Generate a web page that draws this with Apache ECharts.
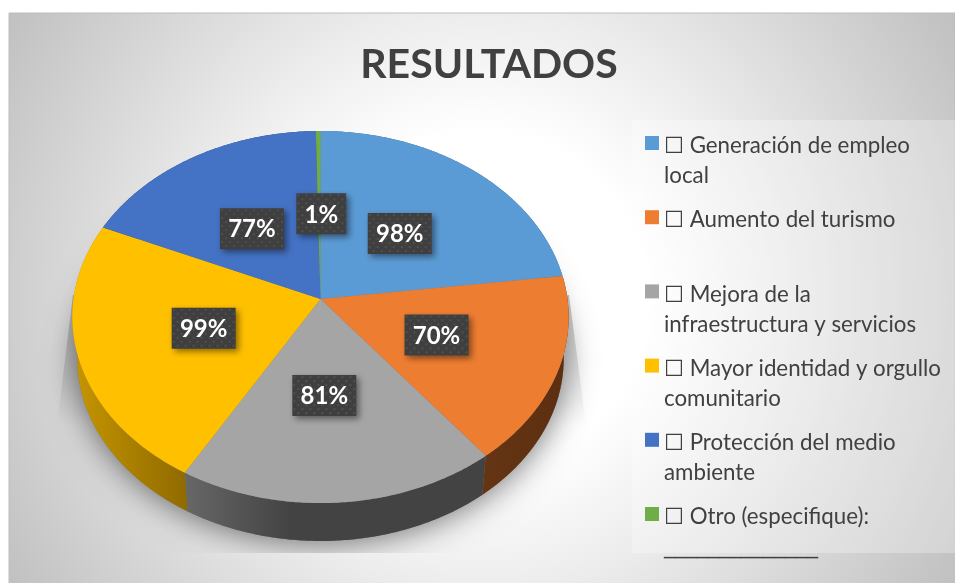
<!DOCTYPE html>
<html>
<head>
<meta charset="utf-8">
<style>
  html, body { margin: 0; padding: 0; background: #fff; }
  #chart { width: 955px; height: 583px; }
</style>
</head>
<body>
<div id="chart"></div>
<script src="https://cdn.jsdelivr.net/npm/echarts@6/dist/echarts.min.js"></script>
<script>
const categories = [
  '☐ Generación de empleo\nlocal',
  '☐ Aumento del turismo\n ',
  '☐ Mejora de la\ninfraestructura y servicios',
  '☐ Mayor identidad y orgullo\ncomunitario',
  '☐ Protección del medio\nambiente',
  '☐ Otro (especifique):\n______________'
]
// the green slice is drawn a bit wider than its 1% label
const values = [98, 70, 81, 99, 77, 1.4]
const colors = ['#5b9bd5', '#ed7d31', '#a5a5a5', '#ffc000', '#4472c4', '#70ad47']
const wallColors = [
  ['#3a6a96', '#3a6a96'],
  ['#653514', '#5c2f10'],
  ['#666666', '#434343'],
  ['#c49400', '#8f6a00'],
  ['#2c4a80', '#2c4a80'],
  ['#4a7330', '#4a7330']
]
const labelNudge = [[2, 0], [2, 1], [-5, 2], [0, 1], [-4, 2], [2, 1]]

// pie geometry, the disc is tilted with some perspective
const CX = 320.5
const TOP_Y = 299
const BOTTOM_Y = 341
const RX = 247
const RY = 184.3
const PERSP = 0.0968
const BOTTOM_SCALE = 0.98
const LABEL_RADIUS = 0.49
const FONT = 'Lato, "DejaVu Sans", sans-serif'

const total = values.reduce((sum, v) => sum + v, 0)
const slices = []
values.reduce((acc, v, i) => {
  slices[i] = { start: acc / total * Math.PI * 2, end: (acc + v) / total * Math.PI * 2 }
  return acc + v
}, 0)

function project(angle, r, baseY, scale) {
  const u = r * Math.sin(angle)
  const v = -r * Math.cos(angle)
  const den = 1 - PERSP * v
  return [CX + RX * scale * u / den, baseY + RY * scale * v / den]
}

function arcPoints(start, end, baseY, scale) {
  const steps = Math.max(2, Math.ceil((end - start) / 0.01))
  const pts = []
  for (let i = 0; i <= steps; i++) {
    pts.push(project(start + (end - start) * i / steps, 1, baseY, scale))
  }
  return pts
}

function makeDots() {
  const canvas = document.createElement('canvas')
  canvas.width = 8
  canvas.height = 8
  const ctx = canvas.getContext('2d')
  ctx.fillStyle = '#3f3f3f'
  ctx.fillRect(0, 0, 8, 8)
  ctx.fillStyle = '#4f4f4f'
  ctx.fillRect(1, 1, 2, 2)
  ctx.fillRect(5, 5, 2, 2)
  return canvas
}
const dots = makeDots()

const bgGradient = () => new echarts.graphic.RadialGradient(480, 300, 560, [
  { offset: 0, color: '#ffffff' },
  { offset: 0.3, color: '#ffffff' },
  { offset: 0.5, color: '#eeeeee' },
  { offset: 1, color: '#bfbfbf' }
], true)

function wedge(points) {
  return {
    type: 'polygon',
    z2: 0,
    shape: { points },
    style: {
      fill: new echarts.graphic.LinearGradient(0, 295, 0, 425, [
        { offset: 0, color: 'rgba(0,0,0,0.24)' },
        { offset: 1, color: 'rgba(0,0,0,0)' }
      ], true)
    }
  }
}

function renderShadow() {
  return {
    type: 'group',
    children: [
      wedge([[73, 295], [57, 425], [110, 425], [110, 295]]),
      wedge([[569, 295], [586, 425], [530, 425], [530, 295]]),
      {
        type: 'polygon',
        z2: 0,
        shape: { points: arcPoints(0, Math.PI * 2, BOTTOM_Y, BOTTOM_SCALE) },
        style: {
          fill: '#777',
          shadowColor: 'rgba(0,0,0,0.55)',
          shadowBlur: 32,
          shadowOffsetY: 2
        }
      },
      {
        type: 'rect',
        z2: 1,
        shape: { x: 9, y: 553, width: 946, height: 30 },
        style: { fill: bgGradient() }
      }
    ]
  }
}

function renderSlice(i) {
  const { start, end } = slices[i]
  const top = arcPoints(start, end, TOP_Y, 1)
  const bottom = arcPoints(start, end, BOTTOM_Y, BOTTOM_SCALE)
  const mid = (start + end) / 2
  const [px, py] = project(mid, LABEL_RADIUS, TOP_Y, 1)
  const lx = px + labelNudge[i][0]
  const ly = py + labelNudge[i][1]
  const label = Math.round(values[i]) + '%'
  const boxW = label.length === 3 ? 64 : 50
  const boxH = 41
  return {
    type: 'group',
    children: [
      {
        type: 'polygon',
        z2: 2,
        shape: { points: top.concat(bottom.slice().reverse()) },
        style: {
          fill: new echarts.graphic.LinearGradient(
            Math.min(...bottom.map(p => p[0])), 0,
            i === 2 ? 290 : Math.max(...bottom.map(p => p[0])), 0,
            [{ offset: 0, color: wallColors[i][0] }, { offset: 1, color: wallColors[i][1] }],
            true
          )
        }
      },
      {
        type: 'polygon',
        z2: 3,
        shape: { points: [[CX, TOP_Y]].concat(top) },
        style: { fill: colors[i] }
      },
      {
        type: 'rect',
        z2: 4,
        x: lx - boxW / 2,
        y: ly - boxH / 2,
        shape: { x: 0, y: 0, width: boxW, height: boxH },
        style: {
          fill: { image: dots, repeat: 'repeat' },
          shadowColor: 'rgba(0,0,0,0.45)',
          shadowBlur: 6,
          shadowOffsetX: 3,
          shadowOffsetY: 3
        }
      },
      {
        type: 'text',
        z2: 5,
        x: lx,
        y: ly + 1,
        style: {
          text: label,
          fontFamily: FONT,
          fontSize: 24,
          fontWeight: 'bold',
          fill: '#fff',
          align: 'center',
          verticalAlign: 'middle'
        }
      }
    ]
  }
}

const chart = echarts.init(document.getElementById('chart'))

chart.setOption({
  animation: false,
  title: {
    text: 'RESULTADOS',
    left: 489,
    top: 44,
    textAlign: 'center',
    padding: 0,
    textStyle: { fontFamily: FONT, fontSize: 41, fontWeight: 'bold', color: '#404040' }
  },
  legend: {
    orient: 'vertical',
    left: 645,
    top: 95,
    padding: 0,
    itemWidth: 14,
    itemHeight: 14,
    itemGap: -21.8,
    selectedMode: false,
    icon: 'rect',
    data: categories,
    // tall blank first line keeps the icon beside the first line of text
    formatter: name => '{b| }\n' + name.replace(/_+/, m => `{u|${m}}`),
    textStyle: {
      fontFamily: FONT,
      fontSize: 22.3,
      lineHeight: 30,
      color: '#404040',
      rich: {
        b: { lineHeight: 36, fontSize: 10 },
        u: { fontFamily: '"DejaVu Sans"', fontSize: 22, lineHeight: 30, color: '#404040' }
      }
    }
  },
  graphic: {
    elements: [
      {
        type: 'rect',
        z: 0,
        silent: true,
        shape: { x: 9, y: 13, width: 946, height: 570 },
        style: { fill: bgGradient(), stroke: '#bdbdbd', lineWidth: 1 }
      },
      {
        type: 'rect',
        z: 1,
        silent: true,
        shape: { x: 632, y: 120, width: 323, height: 445 },
        style: { fill: 'rgba(255,255,255,0.28)' }
      }
    ]
  },
  series: [
    {
      type: 'custom',
      coordinateSystem: 'none',
      silent: true,
      data: [[0]],
      renderItem: renderShadow
    },
    ...categories.map((name, i) => ({
      type: 'custom',
      name,
      coordinateSystem: 'none',
      silent: true,
      itemStyle: { color: colors[i] },
      data: [[values[i]]],
      renderItem: () => renderSlice(i)
    }))
  ]
})
</script>
</body>
</html>
